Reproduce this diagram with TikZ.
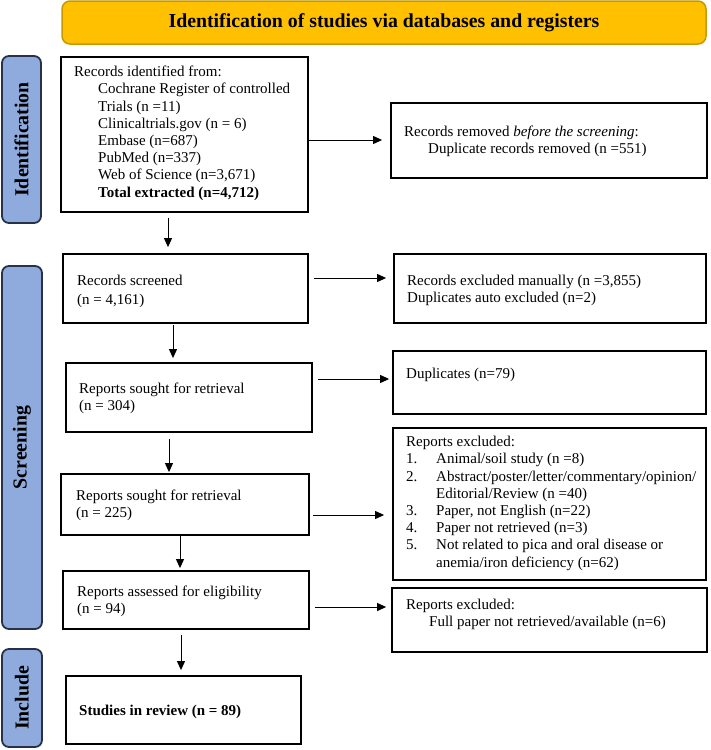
\documentclass[tikz,border=0pt]{standalone}
\usepackage{fontspec}
\setmainfont{Liberation Serif}
\usetikzlibrary{arrows.meta}
\definecolor{hdrfill}{HTML}{FFC000}
\definecolor{hdrdraw}{HTML}{C49A00}
\definecolor{sidefill}{HTML}{8FAADC}
\definecolor{sidedraw}{HTML}{26324A}
\begin{document}
\begin{tikzpicture}[x=1pt,y=-1pt,
  bx/.style={draw=black, line width=1.8pt, inner sep=0pt},
  side/.style={draw=sidedraw, fill=sidefill, line width=1.8pt, rounded corners=7pt, inner sep=0pt},
  sidetxt/.style={rotate=90, font=\bfseries\fontsize{19.8}{22}\selectfont, inner sep=0pt},
  txt/.style={anchor=north west, inner sep=0pt, align=left, font=\fontsize{15}{17.2}\selectfont},
  arr/.style={-{Triangle[length=9pt,width=8pt]}, line width=1pt}]
\useasboundingbox (0,0) rectangle (710,750);
% header
\node[draw=hdrdraw, fill=hdrfill, line width=1.5pt, rounded corners=8pt, minimum width=644pt, minimum height=43pt, inner sep=0pt] (hdr) at (384,22.5) {};
\node[font=\bfseries\fontsize{19.8}{22}\selectfont, inner sep=0pt] (hdrT) at (hdr.center) {Identification of studies via databases and registers};
% side labels
\node[side, minimum width=39pt, minimum height=167pt] (idL) at (21.5,139.5) {};
\node[sidetxt] (idT) at (idL.center) {Identification};
\node[side, minimum width=40pt, minimum height=363pt] (scrL) at (22,447.5) {};
\node[sidetxt] (scrT) at (scrL.center) {Screening};
\node[side, minimum width=40pt, minimum height=98pt] (incL) at (22,698) {};
\node[sidetxt] (incT) at (incL.center) {Include};
% boxes
\node[bx, minimum width=247pt, minimum height=155pt] (b1) at (184.5,134.5) {};
\node[bx, minimum width=316pt, minimum height=75pt] (r1) at (549,140.5) {};
\node[bx, minimum width=245pt, minimum height=69pt] (b2) at (185.5,288.5) {};
\node[bx, minimum width=312pt, minimum height=69pt] (r2) at (550,288.5) {};
\node[bx, minimum width=246pt, minimum height=69pt] (b3) at (189,397.5) {};
\node[bx, minimum width=313pt, minimum height=63pt] (r3) at (549.5,382.5) {};
\node[bx, minimum width=248pt, minimum height=61pt] (b4) at (185,504.5) {};
\node[bx, minimum width=313pt, minimum height=152pt] (r4) at (549.5,504) {};
\node[bx, minimum width=246pt, minimum height=58pt] (b5) at (186,600) {};
\node[bx, minimum width=315pt, minimum height=64pt] (r5) at (549.5,620) {};
\node[bx, minimum width=235pt, minimum height=68pt] (b6) at (183.5,710) {};
% texts
\node[txt] (b1T) at (74,66) {Records identified from:\\
\hspace*{24pt}Cochrane Register of controlled\\
\hspace*{24pt}Trials (n =11)\\
\hspace*{24pt}Clinicaltrials.gov (n = 6)\\
\hspace*{24pt}Embase (n=687)\\
\hspace*{24pt}PubMed (n=337)\\
\hspace*{24pt}Web of Science (n=3,671)\\
\hspace*{24pt}\textbf{Total extracted (n=4,712)}};
\node[txt] (r1T) at (404,126) {Records removed \textit{before the screening}:\\
\hspace*{24pt}Duplicate records removed (n =551)};
\node[txt, font=\fontsize{15}{18.5}\selectfont] (b2T) at (77,275) {Records screened\\(n = 4,161)};
\node[txt] (r2T) at (407,275) {Records excluded manually (n =3,855)\\Duplicates auto excluded (n=2)};
\node[txt] (b3T) at (79,383) {Reports sought for retrieval\\(n = 304)};
\node[txt] (r3T) at (406,368) {Duplicates (n=79)};
\node[txt] (b4T) at (76,490) {Reports sought for retrieval\\(n = 225)};
\node[txt] (r4T) at (406,436) {Reports excluded:\\
\makebox[30pt][l]{1.}Animal/soil study (n =8)\\
\makebox[30pt][l]{2.}Abstract/poster/letter/commentary/opinion/\\
\hspace*{30pt}Editorial/Review (n =40)\\
\makebox[30pt][l]{3.}Paper, not English (n=22)\\
\makebox[30pt][l]{4.}Paper not retrieved (n=3)\\
\makebox[30pt][l]{5.}Not related to pica and oral disease or\\
\hspace*{30pt}anemia/iron deficiency (n=62)};
\node[txt] (b5T) at (77,586) {Reports assessed for eligibility\\(n = 94)};
\node[txt] (r5T) at (406,599) {Reports excluded:\\
\hspace*{23pt}Full paper not retrieved/available (n=6)};
\node[txt] (b6T) at (79,705) {\textbf{Studies in review (n = 89)}};
% horizontal arrows
\draw[arr, shorten >=8pt] (b1.east |- 0,140) -- (r1.west |- 0,140);
\draw[arr, shorten <=5pt, shorten >=7pt] (b2.east |- 0,278) -- (r2.west |- 0,278);
\draw[arr, shorten <=5pt, shorten >=3pt] (b3.east |- 0,379) -- (r3.west |- 0,379);
\draw[arr, shorten <=3pt, shorten >=8pt] (b4.east |- 0,515) -- (r4.west |- 0,515);
\draw[arr, shorten <=5pt, shorten >=5pt] (b5.east |- 0,607) -- (r5.west |- 0,607);
% vertical arrows
\draw[arr, shorten <=5pt, shorten >=6pt] (168,0 |- b1.south) -- (168,0 |- b2.north);
\draw[arr, shorten <=1pt, shorten >=4pt] (173,0 |- b2.south) -- (173,0 |- b3.north);
\draw[arr, shorten <=6pt, shorten >=1pt] (169,0 |- b3.south) -- (169,0 |- b4.north);
\draw[arr, shorten >=2pt] (180,0 |- b4.south) -- (180,0 |- b5.north);
\draw[arr, shorten <=5pt, shorten >=5pt] (181,0 |- b5.south) -- (181,0 |- b6.north);
\end{tikzpicture}
\end{document}
